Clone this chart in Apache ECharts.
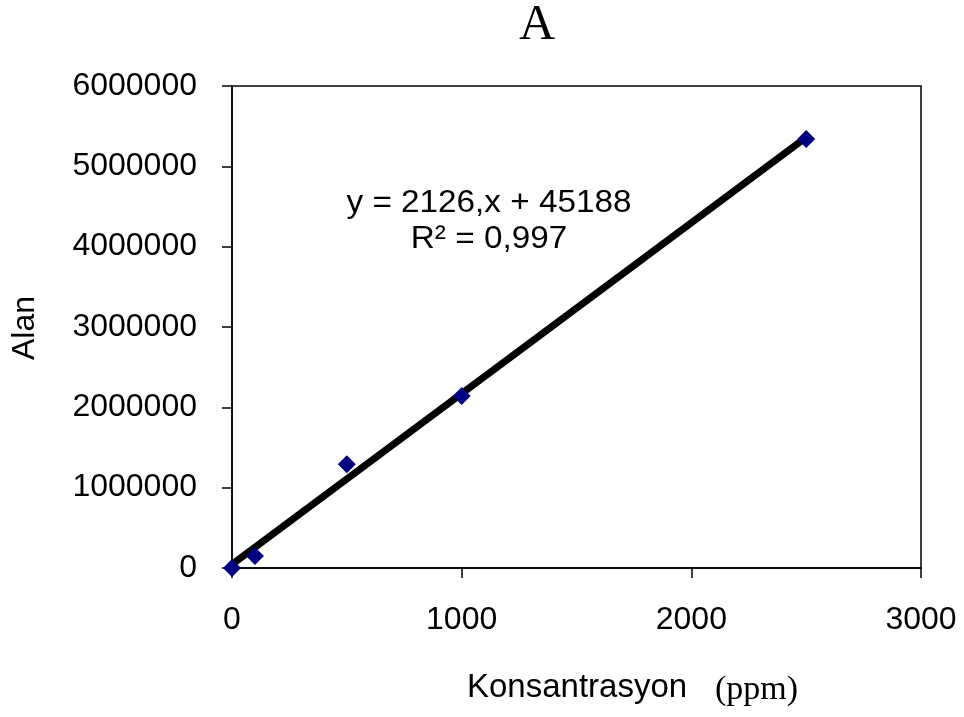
<!DOCTYPE html>
<html>
<head>
<meta charset="utf-8">
<script src="https://cdn.jsdelivr.net/npm/echarts@6/dist/echarts.min.js"></script>
<style>html,body{margin:0;padding:0;background:#fff}#c{width:964px;height:717px}</style>
</head>
<body>
<div id="c"></div>
<script>
var concX = [0, 100, 500, 1000, 2500];
var alanY = [0, 150000, 1290000, 2140000, 5340000];
var trendX = [0, 2500];
var trendY = [45188, 5360188];
var equationLines = ['y = 2126,x + 45188', 'R² = 0,997'];
var chartTitle = 'A';
var xName = 'Konsantrasyon';
var xUnit = '(ppm)';
var yName = 'Alan';

var chart = echarts.init(document.getElementById('c'));
var sans = '"Liberation Sans", Arial, sans-serif';
var serif = '"Liberation Serif", "Times New Roman", serif';
function plain(v) { return String(v); }
chart.setOption({
  animation: false,
  backgroundColor: '#fff',
  grid: { left: 232, right: 43, top: 86, bottom: 149, show: true, borderColor: '#000', borderWidth: 1.5, backgroundColor: 'transparent' },
  xAxis: {
    type: 'value', min: 0, max: 3000, interval: 1000,
    axisLine: { show: true, onZero: false, lineStyle: { color: '#000', width: 1.5 } },
    axisTick: { show: true, inside: false, length: 10, lineStyle: { color: '#000', width: 1.5 } },
    axisLabel: { color: '#000', fontFamily: sans, fontSize: 32, margin: 36, formatter: plain },
    splitLine: { show: false }
  },
  yAxis: {
    type: 'value', min: 0, max: 6000000, interval: 1000000,
    axisLine: { show: true, onZero: false, lineStyle: { color: '#000', width: 1.5 } },
    axisTick: { show: true, inside: false, length: 10, lineStyle: { color: '#000', width: 1.5 } },
    axisLabel: { color: '#000', fontFamily: sans, fontSize: 32, margin: 35, formatter: plain },
    splitLine: { show: false }
  },
  graphic: [
    { type: 'text', style: { text: chartTitle, font: '50px ' + serif, fill: '#000', textAlign: 'center', textVerticalAlign: 'middle' }, x: 537, y: 26 },
    { type: 'text', style: { text: equationLines[0], font: '32px ' + sans, fill: '#000', textAlign: 'center', textVerticalAlign: 'middle' }, x: 489, y: 203, scaleX: 1.04 },
    { type: 'text', style: { text: equationLines[1], font: '32px ' + sans, fill: '#000', textAlign: 'center', textVerticalAlign: 'middle' }, x: 489, y: 239, scaleX: 1.04 },
    { type: 'text', style: { text: xName, font: '33px ' + sans, fill: '#000', textVerticalAlign: 'middle' }, x: 467, y: 688 },
    { type: 'text', style: { text: xUnit, font: '34px ' + serif, fill: '#000', textVerticalAlign: 'middle' }, x: 715, y: 690 },
    { type: 'text', style: { text: yName, font: '32px ' + sans, fill: '#000', textAlign: 'center', textVerticalAlign: 'middle' }, x: 25, y: 328, rotation: Math.PI / 2 }
  ],
  series: [
    {
      type: 'line', data: trendX.map(function (x, i) { return [x, trendY[i]]; }),
      symbol: 'none', lineStyle: { color: '#000', width: 7 }, z: 2
    },
    {
      type: 'scatter', data: concX.map(function (x, i) { return [x, alanY[i]]; }),
      symbol: 'diamond', symbolSize: [18, 18], itemStyle: { color: '#000080', opacity: 1 }, z: 3
    }
  ]
});
</script>
</body>
</html>
